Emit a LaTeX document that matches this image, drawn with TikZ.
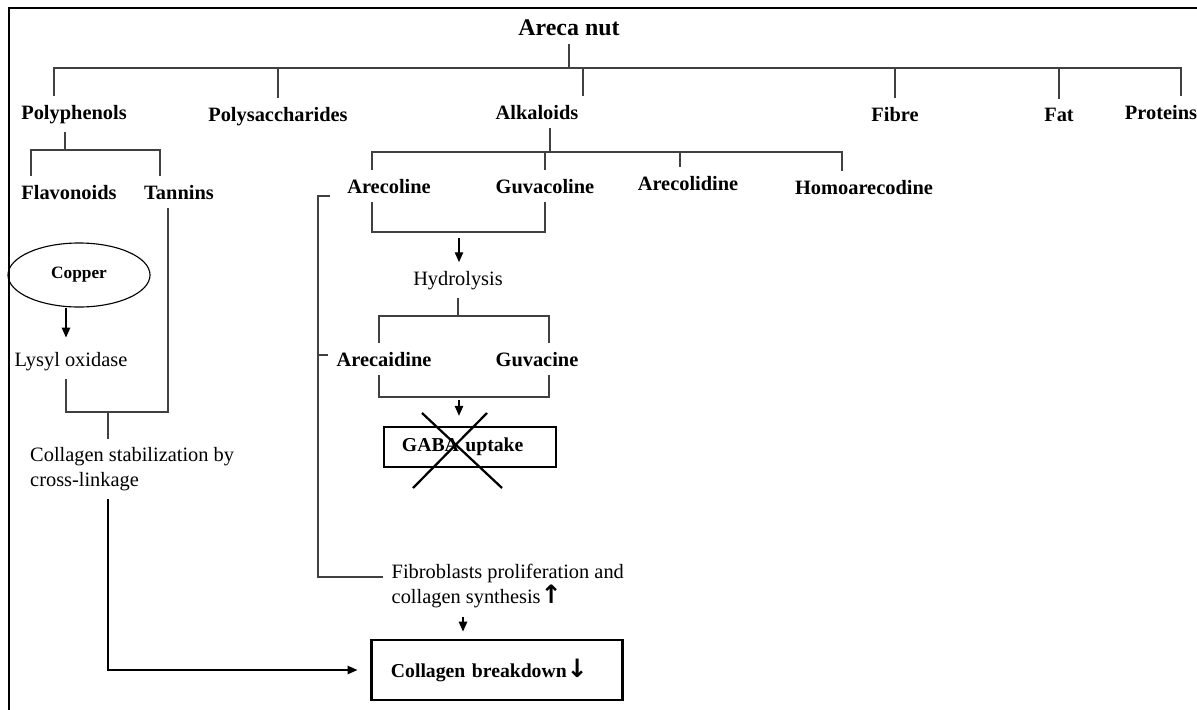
\documentclass[tikz,border=0pt]{standalone}
\usepackage{fontspec}
\setmainfont{Liberation Serif}
\newfontfamily\arrowfont{DejaVu Sans}
\usetikzlibrary{arrows.meta,shapes.geometric}
\begin{document}
\begin{tikzpicture}[x=0.025cm, y=-0.025cm,
  root/.style={font=\fontsize{17}{20}\selectfont\bfseries, anchor=base, inner sep=6pt},
  lbl/.style={font=\fontsize{14.5}{17}\selectfont\bfseries, anchor=base, inner sep=6pt},
  txt/.style={font=\fontsize{14.5}{17.7}\selectfont, inner sep=6pt},
  box/.style={draw, line width=2pt, align=left, font=\fontsize{14}{17}\selectfont\bfseries},
  link/.style={draw=black!75, line width=0.9pt},
  arr/.style={draw=black, line width=0.9pt, -{Triangle[length=7pt,width=6pt]}},
  cross/.style={line width=1.6pt}
]
\useasboundingbox (0,0) rectangle (1197,710);
\draw[line width=1.3pt] (1197,8) -- (9,8) -- (9,710);

% first level
\node[root] (areca) at (569,35) {Areca nut};
\node[lbl] (poly)   at (74,119)   {Polyphenols};
\node[lbl] (polys)  at (278,121)  {Polysaccharides};
\node[lbl] (alk)    at (537,119)  {Alkaloids};
\node[lbl] (fibre)  at (895,121)  {Fibre};
\node[lbl] (fat)    at (1059,121) {Fat};
\node[lbl] (prot)   at (1161,119) {Proteins};

% polyphenols branch
\node[lbl] (flav)   at (69,199)  {Flavonoids};
\node[lbl] (tann)   at (179,199) {Tannins};
\node[draw, ellipse, line width=0.8pt, minimum width=3.55cm, minimum height=1.6cm,
      font=\fontsize{12.3}{14}\selectfont\bfseries] (copper) at (79,275) {Copper};
\node[txt, anchor=base] (lysyl) at (71,366) {Lysyl oxidase};
\node[txt, anchor=north west, align=left] (colstab) at (21.5,438.5)
  {Collagen stabilization by\\cross-linkage};

% alkaloids branch
\node[lbl] (arecoline)   at (389,193) {Arecoline};
\node[lbl] (guvacoline)  at (545,193) {Guvacoline};
\node[lbl] (arecolidine) at (688,190) {Arecolidine};
\node[lbl] (homo)        at (864,194) {Homoarecodine};
\node[txt, anchor=base] (hydro) at (458,285) {Hydrolysis};
\node[lbl] (arecaidine)  at (384,366) {Arecaidine};
\node[lbl] (guvacine)    at (537,366) {Guvacine};
\node[box, text width=3.4cm, minimum width=4.3cm, minimum height=1cm] (gaba) at (470,447)
  {GABA uptake};
\node[txt, anchor=west, align=left] (fibro) at (383,586)
  {Fibroblasts proliferation and\\collagen synthesis{\arrowfont\bfseries\fontsize{18}{18}\selectfont ↑}};
\node[box, text width=5.3cm, minimum width=6.275cm, minimum height=1.5cm] (colbrk) at (497,670)
  {Collagen breakdown{\arrowfont\bfseries\fontsize{18}{18}\selectfont ↓}};

% junction points
\coordinate (busL) at (54,68);
\coordinate (busR) at (1181,68);
\coordinate (dAlk) at (583,68);
\coordinate (pS) at (65,150);
\coordinate (pL) at (31,150);
\coordinate (pR) at (160,150);
\coordinate (aS) at (550,152);
\coordinate (aL) at (372,152);
\coordinate (aM1) at (545,152);
\coordinate (aM2) at (680,152);
\coordinate (aR) at (842,152);
\coordinate (hB) at (459,232);
\coordinate (hL) at (379,316);
\coordinate (hR) at (549,316);
\coordinate (gB) at (459,397);
\coordinate (lx) at (66,412);
\coordinate (tx) at (168,412);
\coordinate (cs) at (108,412);
\coordinate (bT0) at (330,196);
\coordinate (bT) at (318,196);
\coordinate (bM) at (318,355);
\coordinate (bB) at (318,577);
\coordinate (fx) at (463,600);

% tree lines
\draw[link] (areca.south) -- (areca.south |- busL);
\draw[link] (busL |- poly.north) -- (busL) -- (busR) -- (busR |- prot.north);
\draw[link] (polys.north) -- (polys.north |- busL);
\draw[link] (dAlk) -- (dAlk |- alk.north);
\draw[link] (fibre.north) -- (fibre.north |- busL);
\draw[link] (fat.north) -- (fat.north |- busL);

\draw[link] (pS |- poly.south) -- (pS);
\draw[link] (pL |- flav.north) -- (pL) -- (pR) -- (pR |- tann.north);

\draw[link] (aS |- alk.south) -- (aS);
\draw[link] (aL |- arecoline.north) -- (aL) -- (aR) -- (aR |- homo.north);
\draw[link] (aM1) -- (aM1 |- guvacoline.north);
\draw[link] (aM2) -- (aM2 |- arecolidine.north);

\draw[link] (aL |- arecoline.south) -- (aL |- hB) -- (aM1 |- hB) -- (aM1 |- guvacoline.south);
\draw[arr, shorten <=4pt] (hB) -- (hB |- hydro.north);
\draw[link] (hydro.south) -- (hydro.south |- hL);
\draw[link] (hL |- arecaidine.north) -- (hL) -- (hR) -- (hR |- guvacine.north);
\draw[link] (hL |- arecaidine.south) -- (hL |- gB) -- (hR |- gB) -- (hR |- guvacine.south);
\draw[arr, shorten <=2pt, shorten >=7pt] (gB) -- (gB |- gaba.north);

% crossed out
\draw[cross] ([shift={(-48,-34)}]gaba.center) -- ([shift={(32,41)}]gaba.center);
\draw[cross] ([shift={(17,-34)}]gaba.center) -- ([shift={(-57,41)}]gaba.center);

% copper and tannins
\draw[arr, shorten >=4pt] (lx |- copper.south) -- (lx |- lysyl.north);
\draw[link] (lx |- lysyl.south) -- (lx) -- (tx) -- (tx |- tann.south);
\draw[link] (cs) -- (cs |- colstab.north);
\draw[arr, shorten >=9pt] (cs |- colstab.south) |- (colbrk.west);

% arecoline effect
\draw[link] (bT0) -- (bT) -- (bB) -- (bB -| fibro.west);
\draw[link] (bM) -- (bM -| arecaidine.west);
\draw[arr, shorten >=5pt] (fx |- fibro.south) -- (fx |- colbrk.north);
\end{tikzpicture}
\end{document}
